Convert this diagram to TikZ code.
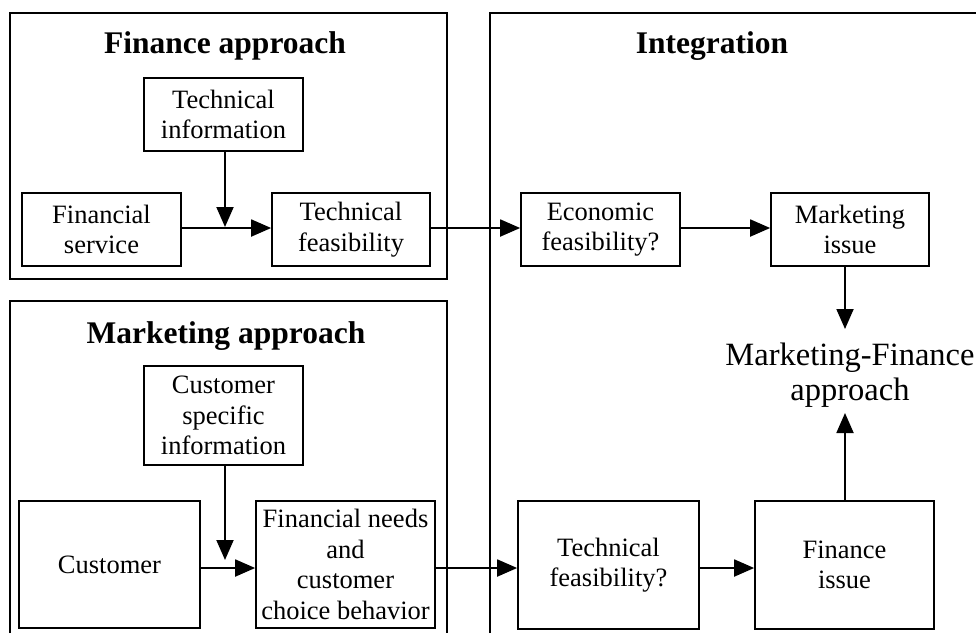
\documentclass[tikz,border=0pt]{standalone}
\usepackage{fontspec}
\setmainfont{Liberation Serif}
\usetikzlibrary{arrows.meta}
\tikzset{
  box/.style={draw, line width=1.7pt, align=center, inner sep=0pt,
    font=\fontsize{26.5}{30.5}\selectfont},
  frame/.style={line width=1.7pt},
  arr/.style={line width=1.9pt, -{Triangle[length=20pt,width=17pt]}},
  ttl/.style={font=\fontsize{31.5}{36}\selectfont\bfseries, inner sep=0pt},
  big/.style={align=center, inner sep=0pt, font=\fontsize{32.5}{35}\selectfont}
}
\begin{document}
\begin{tikzpicture}[x=1pt,y=-1pt]
\useasboundingbox (0,0) rectangle (976,633);
% frames
\draw[frame] (10,13) rectangle (447,279);
\draw[frame] (10,633) -- (10,301) -- (447,301) -- (447,633);
\draw[frame] (490,633) -- (490,13) -- (976,13);
% titles
\node[ttl] (tfin) at (225,46) {Finance approach};
\node[ttl] (tmkt) at (226,336) {Marketing approach};
\node[ttl] (tint) at (712,46) {Integration};
% finance boxes
\node[box, minimum width=159pt, minimum height=73pt] (techinfo) at (223.5,114.5) {Technical\\information};
\node[box, minimum width=159pt, minimum height=73pt] (finserv) at (101.5,229.5) {Financial\\service};
\node[box, minimum width=158pt, minimum height=73pt] (techfeas) at (351,229.5) {Technical\\feasibility};
% marketing boxes
\node[box, minimum width=159pt, minimum height=99pt] (custinfo) at (223.5,415.5) {Customer\\specific\\information};
\node[box, minimum width=181pt, minimum height=127pt] (customer) at (109.5,564.5) {Customer};
\node[box, minimum width=179pt, minimum height=127pt] (finneeds) at (345.5,564.5) {Financial needs\\and\\customer\\choice behavior};
% integration boxes
\node[box, minimum width=159pt, minimum height=73pt] (econ) at (600.5,229.5) {Economic\\feasibility?};
\node[box, minimum width=158pt, minimum height=73pt] (mktissue) at (850,229.5) {Marketing\\issue};
\node[box, minimum width=181pt, minimum height=128pt] (techfeasq) at (608.5,565) {Technical\\feasibility?};
\node[box, minimum width=179pt, minimum height=128pt] (finissue) at (844.5,565) {Finance\\issue};
\node[big] (mfa) at (850,375) {Marketing-Finance\\approach};
% coordinates
\coordinate (j1) at (225,227);
\coordinate (j2) at (225,560);
\coordinate (m1) at (845,266);
\coordinate (m2) at (845,329);
\coordinate (f1) at (845,501);
\coordinate (f2) at (845,413);
% arrows
\draw[arr] (finserv.east |- 0,228) -- (techfeas.west |- 0,228);
\draw[arr] (techinfo.south -| j1) -- (j1);
\draw[arr] (techfeas.east |- 0,228) -- (econ.west |- 0,228);
\draw[arr] (econ.east |- 0,228) -- (mktissue.west |- 0,228);
\draw[arr] (m1) -- (m2);
\draw[arr] (f1) -- (f2);
\draw[arr] (customer.east |- 0,568) -- (finneeds.west |- 0,568);
\draw[arr] (custinfo.south -| j2) -- (j2);
\draw[arr] (finneeds.east |- 0,568) -- (techfeasq.west |- 0,568);
\draw[arr] (techfeasq.east |- 0,568) -- (finissue.west |- 0,568);
\end{tikzpicture}
\end{document}
